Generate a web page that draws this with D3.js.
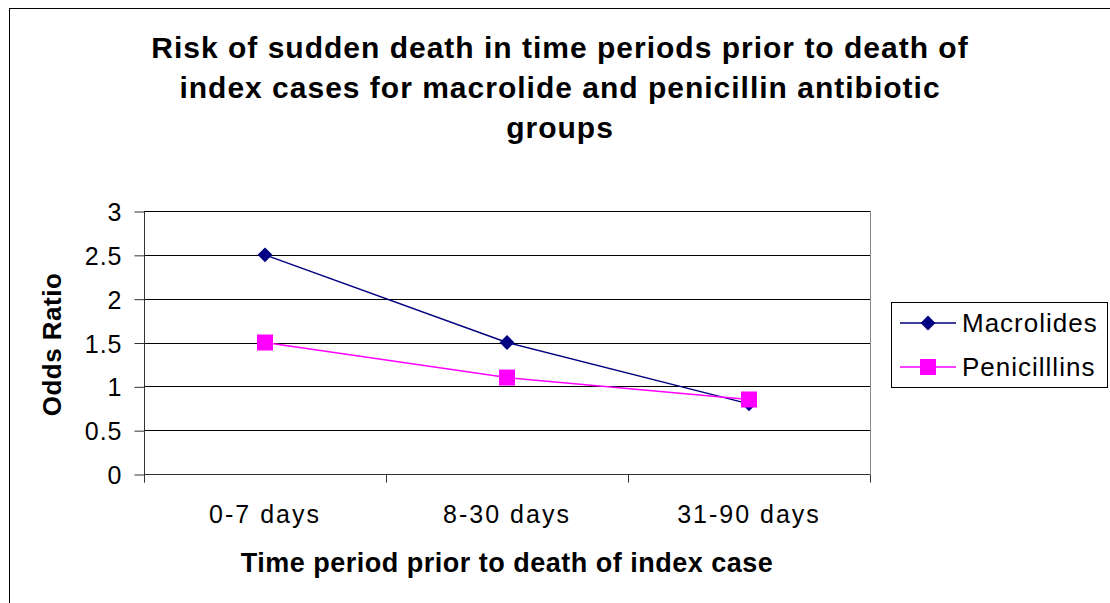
<!DOCTYPE html>
<html>
<head>
<meta charset="utf-8">
<script src="https://cdn.jsdelivr.net/npm/d3@7"></script>
<style>
body { margin: 0; background: #fff; }
text { font-family: "Liberation Sans", Arial, sans-serif; }
</style>
</head>
<body>
<script>
// chart data
var categories = ['0-7 days', '8-30 days', '31-90 days'];
var macrolides = [2.5, 1.5, 0.8];
var penicillins = [1.5, 1.1, 0.85];
var yTicks = [0, 0.5, 1, 1.5, 2, 2.5, 3];
var titleLines = ['Risk of sudden death in time periods prior to death of',
                  'index cases for macrolide and penicillin antibiotic',
                  'groups'];

var width = 1110, height = 603;
var svg = d3.select('body').append('svg')
    .attr('width', width)
    .attr('height', height);

// outer frame (runs off the picture on right and bottom)
svg.append('rect')
    .attr('x', 9.5).attr('y', 8.5)
    .attr('width', 1200).attr('height', 700)
    .attr('fill', 'none')
    .attr('stroke', '#000');

var plotL = 144, plotR = 870, plotT = 211, plotB = 474;

var x = d3.scaleBand().domain(categories).range([plotL, plotR]);
var y = d3.scaleLinear().domain([0, 3]).range([plotB, plotT]);

// title
svg.append('g').selectAll('text')
    .data(titleLines)
    .enter().append('text')
    .attr('x', 560)
    .attr('y', function(d, i) { return 58 + i * 40; })
    .attr('text-anchor', 'middle')
    .style('font-size', '30px')
    .style('font-weight', 'bold')
    .style('letter-spacing', '1px')
    .text(function(d) { return d; });

// gridlines
svg.append('g').selectAll('line')
    .data(yTicks.filter(function(d) { return d > 0; }))
    .enter().append('line')
    .attr('x1', plotL).attr('x2', plotR)
    .attr('y1', function(d) { return Math.round(y(d)) + 0.5; })
    .attr('y2', function(d) { return Math.round(y(d)) + 0.5; })
    .attr('stroke', '#000')
    .attr('stroke-width', 1);

// right border of plot area
svg.append('line')
    .attr('x1', plotR + 0.5).attr('x2', plotR + 0.5)
    .attr('y1', plotT).attr('y2', plotB)
    .attr('stroke', '#888');

// y axis
var yAxis = d3.axisLeft(y)
    .tickValues(yTicks)
    .tickFormat(function(d) { return d; })
    .tickSize(10)
    .tickPadding(12);
var gy = svg.append('g')
    .attr('transform', 'translate(' + (plotL + 0.5) + ',0.5)')
    .call(yAxis);
gy.select('.domain').attr('stroke', '#333').attr('d', 'M0,' + plotT + 'V' + (plotB + 8));
gy.selectAll('.tick line').attr('stroke', '#333');
gy.selectAll('.tick text')
    .style('font-size', '25px')
    .style('letter-spacing', '1px')
    .attr('fill', '#000')
    .attr('dy', '0.36em');

// x axis
var xAxis = d3.axisBottom(x)
    .tickSize(0)
    .tickPadding(30);
var gx = svg.append('g')
    .attr('transform', 'translate(0,' + (plotB + 0.5) + ')')
    .call(xAxis);
gx.select('.domain').attr('stroke', '#333').attr('d', 'M' + plotL + ',0H' + plotR);
gx.selectAll('.tick text')
    .attr('y', 48)
    .attr('dy', null)
    .style('font-size', '25px')
    .style('letter-spacing', '2px')
    .attr('fill', '#000');
// category boundary ticks
gx.append('g').selectAll('line')
    .data(categories.concat(['end']))
    .enter().append('line')
    .attr('x1', function(d, i) { return Math.round(plotL + i * x.bandwidth()) + 0.5; })
    .attr('x2', function(d, i) { return Math.round(plotL + i * x.bandwidth()) + 0.5; })
    .attr('y1', 0).attr('y2', 8)
    .attr('stroke', '#333');

// axis titles
svg.append('text')
    .attr('transform', 'translate(61,' + ((plotT + plotB) / 2 + 2) + ') rotate(-90)')
    .attr('text-anchor', 'middle')
    .style('font-size', '26px')
    .style('font-weight', 'bold')
    .style('letter-spacing', '0.5px')
    .text('Odds Ratio');

svg.append('text')
    .attr('x', 507)
    .attr('y', 572)
    .attr('text-anchor', 'middle')
    .style('font-size', '27px')
    .style('font-weight', 'bold')
    .style('letter-spacing', '0.5px')
    .text('Time period prior to death of index case');

// series
var line = d3.line()
    .x(function(d, i) { return x(categories[i]) + x.bandwidth() / 2; })
    .y(function(d) { return y(d); });

var blue = '#000080', pink = '#FF00FF';

svg.append('path')
    .datum(macrolides)
    .attr('d', line)
    .attr('fill', 'none')
    .attr('stroke', blue)
    .attr('stroke-width', 1.5);

svg.append('path')
    .datum(penicillins)
    .attr('d', line)
    .attr('fill', 'none')
    .attr('stroke', pink)
    .attr('stroke-width', 1.5);

var diamond = d3.symbol().type(d3.symbolSquare).size(110);

svg.append('g').selectAll('path')
    .data(macrolides)
    .enter().append('path')
    .attr('d', diamond)
    .attr('transform', function(d, i) {
        return 'translate(' + (x(categories[i]) + x.bandwidth() / 2) + ',' + y(d) + ') rotate(45)';
    })
    .attr('fill', blue);

svg.append('g').selectAll('rect')
    .data(penicillins)
    .enter().append('rect')
    .attr('x', function(d, i) { return x(categories[i]) + x.bandwidth() / 2 - 8; })
    .attr('y', function(d) { return y(d) - 8; })
    .attr('width', 16).attr('height', 16)
    .attr('fill', pink);

// legend
var lg = svg.append('g');
lg.append('rect')
    .attr('x', 891.5).attr('y', 302.5)
    .attr('width', 216).attr('height', 85)
    .attr('fill', '#fff')
    .attr('stroke', '#000');

var legendItems = [{name: 'Macrolides', color: blue, y: 323},
                   {name: 'Penicilllins', color: pink, y: 367}];
legendItems.forEach(function(it, i) {
    lg.append('line')
        .attr('x1', 900).attr('x2', 956)
        .attr('y1', it.y).attr('y2', it.y)
        .attr('stroke', it.color)
        .attr('stroke-width', 1.5);
    if (i === 0) {
        lg.append('path')
            .attr('d', diamond)
            .attr('transform', 'translate(928,' + it.y + ') rotate(45)')
            .attr('fill', it.color);
    } else {
        lg.append('rect')
            .attr('x', 920).attr('y', it.y - 8)
            .attr('width', 16).attr('height', 16)
            .attr('fill', it.color);
    }
    lg.append('text')
        .attr('x', 962).attr('y', it.y)
        .attr('dy', '0.36em')
        .style('font-size', '26px')
        .style('letter-spacing', '1px')
        .text(it.name);
});
</script>
</body>
</html>
